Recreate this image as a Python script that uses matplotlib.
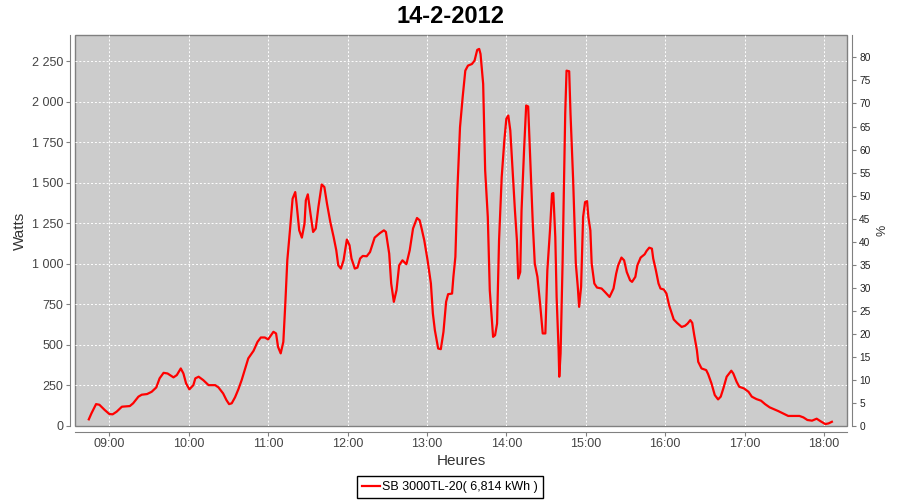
import matplotlib
matplotlib.use("Agg")
import matplotlib.pyplot as plt
import matplotlib.dates as mdates
from matplotlib.ticker import FuncFormatter, MultipleLocator
from datetime import datetime

# Production du 14-2-2012 (heure, puissance en W)
heures = [
    "08:44:30", "08:46:30", "08:50:00", "08:52:30", "08:56:30", "09:00:00", "09:02:30", "09:05:30",
    "09:09:30", "09:15:30", "09:18:00", "09:22:00", "09:24:30", "09:28:30", "09:32:00", "09:35:30",
    "09:38:00", "09:41:00", "09:44:00", "09:48:30", "09:51:00", "09:54:00", "09:56:00", "09:58:00",
    "10:00:30", "10:03:30", "10:05:00", "10:07:30", "10:11:00", "10:15:00", "10:20:00", "10:22:30",
    "10:26:00", "10:28:30", "10:30:30", "10:32:30", "10:35:00", "10:37:30", "10:40:00", "10:42:30",
    "10:45:00", "10:49:00", "10:52:00", "10:54:30", "10:57:30", "11:00:00", "11:04:00", "11:06:00",
    "11:07:30", "11:09:30", "11:11:30", "11:13:00", "11:14:30", "11:16:30", "11:18:30", "11:20:30",
    "11:21:30", "11:23:30", "11:25:30", "11:27:30", "11:28:30", "11:30:00", "11:32:00", "11:34:00",
    "11:36:00", "11:38:00", "11:40:30", "11:42:30", "11:44:30", "11:47:00", "11:49:30", "11:51:30",
    "11:53:00", "11:55:00", "11:57:00", "11:59:30", "12:01:30", "12:03:00", "12:05:30", "12:07:30",
    "12:09:30", "12:11:30", "12:14:30", "12:17:00", "12:20:30", "12:24:30", "12:27:30", "12:29:00",
    "12:31:30", "12:33:00", "12:35:00", "12:37:00", "12:39:00", "12:41:30", "12:44:30", "12:47:00",
    "12:49:30", "12:52:30", "12:54:30", "12:56:00", "12:58:00", "13:00:30", "13:03:00", "13:04:30",
    "13:06:00", "13:08:30", "13:10:30", "13:12:30", "13:14:30", "13:16:00", "13:19:00", "13:20:00",
    "13:21:30", "13:23:00", "13:25:00", "13:27:00", "13:29:00", "13:31:00", "13:34:00", "13:36:00",
    "13:38:00", "13:39:30", "13:40:30", "13:42:30", "13:44:00", "13:46:00", "13:47:30", "13:50:00",
    "13:51:30", "13:53:00", "13:54:30", "13:56:30", "13:58:30", "14:00:00", "14:01:30", "14:03:00",
    "14:05:00", "14:06:30", "14:08:00", "14:09:00", "14:10:30", "14:11:30", "14:13:30", "14:15:00",
    "14:16:30", "14:18:30", "14:20:00", "14:21:30", "14:23:30", "14:25:30", "14:27:30", "14:29:30",
    "14:31:00", "14:33:00", "14:34:30", "14:35:30", "14:37:00", "14:38:00", "14:39:30", "14:40:00",
    "14:41:00", "14:42:30", "14:44:30", "14:45:30", "14:47:30", "14:48:30", "14:50:30", "14:52:30",
    "14:54:00", "14:55:00", "14:56:30", "14:58:00", "14:59:30", "15:01:00", "15:02:00", "15:03:30",
    "15:04:30", "15:06:30", "15:08:30", "15:12:00", "15:14:30", "15:18:00", "15:21:00", "15:23:00",
    "15:24:30", "15:27:00", "15:29:00", "15:31:00", "15:33:30", "15:35:00", "15:37:30", "15:39:00",
    "15:41:30", "15:44:30", "15:46:00", "15:48:00", "15:50:00", "15:51:00", "15:53:00", "15:55:00",
    "15:56:30", "15:59:00", "16:01:00", "16:03:00", "16:05:00", "16:06:30", "16:09:00", "16:12:30",
    "16:15:00", "16:17:00", "16:19:00", "16:20:30", "16:22:00", "16:24:00", "16:25:00", "16:27:30",
    "16:31:00", "16:32:30", "16:35:00", "16:37:30", "16:40:00", "16:42:00", "16:44:00", "16:46:30",
    "16:50:00", "16:51:30", "16:54:00", "16:56:00", "16:59:30", "17:03:00", "17:05:30", "17:09:00",
    "17:12:30", "17:15:30", "17:19:00", "17:22:30", "17:25:30", "17:29:00", "17:33:00", "17:37:00",
    "17:41:30", "17:44:30", "17:47:30", "17:51:00", "17:54:30", "17:57:30", "18:01:00", "18:03:30",
    "18:06:00",
]
watts = [
    41, 78, 135, 131, 99, 74, 72, 88,
    119, 123, 140, 181, 193, 197, 211, 238,
    294, 328, 324, 300, 314, 355, 324, 263,
    226, 252, 294, 304, 283, 252, 252, 238,
    201, 160, 135, 140, 177, 226, 283, 349,
    417, 464, 519, 546, 546, 534, 581, 571,
    488, 448, 519, 756, 1022, 1207, 1402, 1443,
    1371, 1207, 1162, 1248, 1392, 1429, 1310, 1197,
    1218, 1351, 1490, 1474, 1371, 1258, 1166, 1084,
    991, 971, 1022, 1150, 1115, 1033, 971, 977,
    1033, 1049, 1047, 1073, 1162, 1190, 1207, 1197,
    1063, 879, 766, 837, 991, 1022, 998, 1084,
    1218, 1283, 1269, 1218, 1145, 1022, 879, 694,
    591, 478, 474, 581, 766, 813, 817, 920,
    1043, 1453, 1843, 2028, 2192, 2223, 2233, 2254,
    2320, 2326, 2295, 2110, 1577, 1289, 837, 550,
    560, 632, 1145, 1535, 1761, 1895, 1915, 1823,
    1535, 1330, 1145, 910, 950, 1330, 1720, 1977,
    1971, 1556, 1248, 1002, 920, 756, 571, 571,
    961, 1207, 1433, 1437, 1166, 796, 468, 304,
    448, 1002, 1926, 2192, 2188, 1926, 1515, 1002,
    858, 735, 858, 1289, 1381, 1387, 1289, 1207,
    1002, 879, 854, 848, 827, 796, 848, 940,
    991, 1039, 1022, 950, 899, 889, 920, 991,
    1039, 1059, 1080, 1100, 1094, 1033, 961, 879,
    848, 842, 817, 745, 694, 657, 636, 611,
    618, 632, 653, 636, 560, 468, 396, 355,
    345, 320, 263, 191, 164, 181, 232, 304,
    341, 324, 273, 242, 232, 211, 181, 166,
    156, 135, 115, 103, 92, 78, 62, 62,
    62, 53, 37, 33, 45, 29, 12, 16,
    26,
]

titre = "14-2-2012"
nom_serie = "SB 3000TL-20( 6,814 kWh )"

x = [datetime.strptime("2012-02-14 " + h, "%Y-%m-%d %H:%M:%S") for h in heures]

plt.rcParams['font.family'] = ['Liberation Sans', 'DejaVu Sans']
gris = '#808080'
texte = '#444444'

fig = plt.figure(figsize=(9, 5), dpi=100)
fig.patch.set_facecolor('white')

# zone de tracé (en pixels : gauche 75, droite 847, haut 35, bas 426)
ax = fig.add_axes([75.3 / 900, 74 / 500, 771.4 / 900, 390.7 / 500])
ax.set_facecolor('#cccccc')
ax.patch.set_edgecolor(gris)
ax.patch.set_linewidth(1.0)

ax.plot(x, watts, color='red', lw=1.6, solid_joinstyle='round')

ax.set_xlim(datetime(2012, 2, 14, 8, 34, 18), datetime(2012, 2, 14, 18, 17, 12))
ax.set_ylim(0, 2410)

ax.xaxis.set_major_locator(mdates.HourLocator())
ax.xaxis.set_major_formatter(mdates.DateFormatter('%H:%M'))
ax.yaxis.set_major_locator(MultipleLocator(250))
ax.yaxis.set_major_formatter(FuncFormatter(lambda v, p: '{:,.0f}'.format(v).replace(',', ' ')))

ax.grid(True, color='white', linestyle=(0, (2, 2)), linewidth=0.7)
ax.set_axisbelow(True)

for s in ['left', 'bottom']:
    ax.spines[s].set_position(('outward', 4))
    ax.spines[s].set_color(gris)
ax.spines['top'].set_visible(False)
ax.spines['right'].set_visible(False)

ax.tick_params(axis='both', colors=gris, labelcolor=texte, labelsize=9, length=3, width=0.8, pad=1.5)

ax.set_xlabel('Heures', fontsize=11, color='#333333', labelpad=3)
ax.set_ylabel('Watts', fontsize=11, color='#333333', labelpad=4)

# axe de droite en %
ax2 = ax.twinx()
ax2.set_ylim(0, 84.8)
ax2.yaxis.set_major_locator(MultipleLocator(5))
for s in ['left', 'top', 'bottom']:
    ax2.spines[s].set_visible(False)
ax2.spines['right'].set_position(('outward', 4))
ax2.spines['right'].set_color(gris)
ax2.tick_params(axis='y', colors=gris, labelcolor='#222222', labelsize=7.3, length=3, width=0.8, pad=2)
ax2.set_ylabel('%', fontsize=9, color='#333333', labelpad=4)

fig.suptitle(titre, x=0.5, y=0.99, fontsize=17, fontweight='bold', va='top')

leg = fig.legend(handles=ax.get_lines(), labels=[nom_serie], loc='lower center',
                 bbox_to_anchor=(0.5, 0.004), fontsize=9, frameon=True, fancybox=False,
                 edgecolor='black', framealpha=1, borderpad=0.4, handlelength=1.4,
                 handletextpad=0.2, borderaxespad=0)
leg.get_frame().set_linewidth(1.0)

fig.savefig('out.png', dpi=100)
